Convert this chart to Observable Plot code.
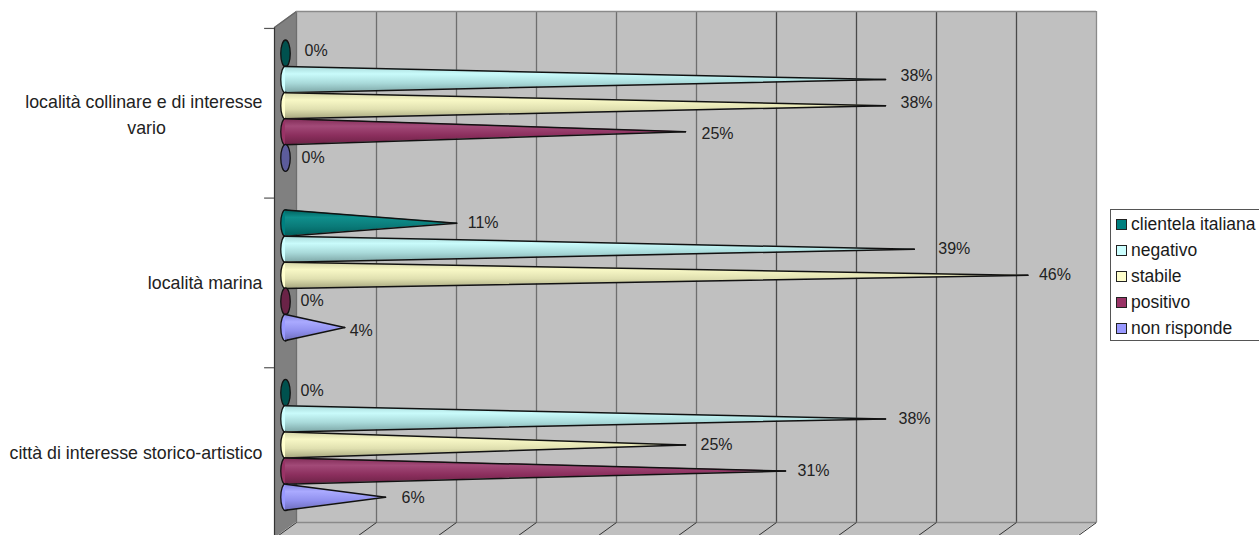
<!DOCTYPE html>
<html>
<head>
<meta charset="utf-8">
<script src="https://cdn.jsdelivr.net/npm/d3@7"></script>
<script src="https://cdn.jsdelivr.net/npm/@observablehq/plot@0.6"></script>
<style>
html,body{margin:0;padding:0;background:#fff;overflow:hidden}
#wrap{position:relative;width:1259px;height:535px;font-family:"Liberation Sans",Arial,sans-serif}
#legend{position:absolute;left:1110px;top:209px;width:160px;height:132px;border:1px solid #555;box-sizing:border-box;font-size:17.5px;color:#1a1a1a}
#legend .row{position:absolute;left:5px;display:flex;align-items:center;height:20px;white-space:nowrap}
#legend .sw{width:9px;height:9px;border:1.5px solid #222;margin-right:4px;display:inline-block}
</style>
</head>
<body>
<div id="wrap"><div id="chart"></div><div id="legend"></div></div>
<script>
const categories = ["località collinare e di interesse vario", "località marina", "città di interesse storico-artistico"];
const seriesNames = ["clientela italiana", "negativo", "stabile", "positivo", "non risponde"];
const clientela = [0, 10.7, 0];
const negativo = [37.5, 39.3, 37.5];
const stabile = [37.5, 46.4, 25];
const positivo = [25, 0, 31.25];
const nonRisponde = [0, 3.7, 6.25];
const xTicks = [0, 5, 10, 15, 20, 25, 30, 35, 40, 45, 50];

const seriesValues = [clientela, negativo, stabile, positivo, nonRisponde];
const swatch = ["#008080", "#CCFFFF", "#FFFFCC", "#993366", "#9999FF"];
const zeroFill = ["#00514e", "#7fa6a6", "#a6a67f", "#6a2347", "#5c5c9c"];
const stops = [
  ["#005f5c", "#0f8f8c", "#0a7a78", "#005f5c"],
  ["#a6d6d6", "#c9fbfb", "#a9dada", "#7fa8a8"],
  ["#d2d2a6", "#f8f8c6", "#e0e0b0", "#a8a880"],
  ["#7f2a55", "#a24a78", "#8c2f5e", "#6d2347"],
  ["#8282dc", "#aaaaff", "#9090ee", "#6f6fbf"]
];

const groupStep = 6.5;
const slot = (g, s) => g * groupStep + s;
const cones = [];
seriesValues.forEach((vals, s) => vals.forEach((v, g) => cones.push({g, s, v, y: slot(g, s)})));

// label placement, in pixels from the tip of each cone: [series][category]
const nudge = [
  [[19, -3], [11, 0], [15, -2]],
  [[15, -4], [24, 0], [13, 0]],
  [[15, -3], [11, 0], [15, 0]],
  [[16, 2], [15, -1], [12, 0]],
  [[16, 0], [5, 3], [16, 1]]
];

const wallTop = -1.61, wallBottom = 17.97;
const depthX = -1.375, depthY = 0.61, coneDx = -11;
const axisTicks = [0, 1, 2, 3].map(i => i * groupStep - 0.96);

const ellipse = {
  draw(ctx, size) {
    const ry = Math.sqrt(size / Math.PI), rx = ry * 0.35, k = 0.5523;
    ctx.moveTo(-rx, 0);
    ctx.bezierCurveTo(-rx, -ry * k, -rx * k, -ry, 0, -ry);
    ctx.bezierCurveTo(rx * k, -ry, rx, -ry * k, rx, 0);
    ctx.bezierCurveTo(rx, ry * k, rx * k, ry, 0, ry);
    ctx.bezierCurveTo(-rx * k, ry, -rx, ry * k, -rx, 0);
    ctx.closePath();
  }
};

const marks = [
  // back wall
  Plot.rect([0], {x1: 0, x2: 50, y1: wallTop, y2: wallBottom, fill: "#C0C0C0"}),
  // floor
  Plot.area([
    {y: wallBottom, x1: 0, x2: 50},
    {y: wallBottom + depthY, x1: depthX, x2: 50 + depthX}
  ], {y1: "y", x1: "x1", x2: "x2", fill: "#C0C0C0"}),
  // side wall
  Plot.area([
    {x: depthX, y1: wallTop + depthY, y2: wallBottom + depthY},
    {x: 0, y1: wallTop, y2: wallBottom}
  ], {x1: "x", y1: "y1", y2: "y2", fill: "#808080"}),
  Plot.ruleX([depthX], {y1: wallTop + depthY, y2: wallBottom + depthY, stroke: "#333", strokeWidth: 1.2}),
  Plot.link([0], {x1: 0, x2: depthX, y1: wallTop, y2: wallTop + depthY, stroke: "#666", strokeWidth: 1.2}),
  Plot.ruleX(xTicks, {x: d => d, y1: wallTop, y2: wallBottom, stroke: d => d < 30 ? "#6e6e6e" : d === 50 ? "#8a8a8a" : "#4a4a4a", strokeWidth: 1.3}),
  Plot.ruleY([wallTop, wallBottom], {x1: 0, x2: 50, stroke: "#8a8a8a", strokeWidth: 1.6}),
  Plot.link(xTicks, {x1: d => d, x2: d => d + depthX, y1: wallBottom, y2: wallBottom + depthY, stroke: "#333", strokeWidth: 1}),
  Plot.ruleY(axisTicks, {x1: depthX * 1.45, x2: depthX, stroke: "#555", strokeWidth: 1.2}),
];

cones.forEach(c => {
  const fill = `url(#grad${c.s})`;
  marks.push(Plot.dot([c], {
    x: 0, y: "y", r: 13.5, symbol: ellipse, dx: coneDx,
    fill: c.v === 0 ? zeroFill[c.s] : swatch[c.s], stroke: "#111", strokeWidth: 1.3
  }));
  if (c.v > 0) {
    const pts = [{x: 0, y1: c.y - 0.5, y2: c.y + 0.5}, {x: c.v, y1: c.y, y2: c.y}];
    marks.push(Plot.area(pts, {x1: "x", y1: "y1", y2: "y2", dx: coneDx, fill}));
    marks.push(Plot.line(pts, {x: "x", y: "y1", dx: coneDx, stroke: "#111", strokeWidth: 1.5}));
    marks.push(Plot.line(pts, {x: "x", y: "y2", dx: coneDx, stroke: "#111", strokeWidth: 1.5}));
  }
});

const fontFamily = "Liberation Sans";
cones.forEach(c => {
  const [ox, oy] = nudge[c.s][c.g];
  marks.push(Plot.text([c], {
    x: "v", y: "y", text: d => Math.round(d.v) + "%",
    dx: coneDx + ox, dy: oy, textAnchor: "start", fill: "#222",
    fontSize: 16, fontFamily
  }));
});

// category labels
const catSize = 17.8;
const catY = [1.88, 8.81, 15.33];
marks.push(Plot.text([categories[0].replace(" vario", "")], {
  x: 0, y: catY[0], text: d => d, dx: -34, textAnchor: "end", fill: "#222", fontSize: catSize, fontFamily
}));
marks.push(Plot.text(["vario"], {
  x: 0, y: catY[0] + 0.99, text: d => d, dx: -150, textAnchor: "middle", fill: "#222", fontSize: catSize, fontFamily
}));
marks.push(Plot.text([categories[1], categories[2]], {
  x: 0, y: (d, i) => catY[i + 1], text: d => d, dx: -34, textAnchor: "end", fill: "#222", fontSize: catSize, fontFamily
}));

const chart = Plot.plot({
  width: 1259, height: 535,
  marginTop: 0, marginRight: 0, marginBottom: 0, marginLeft: 0,
  style: {background: "#fff", overflow: "hidden"},
  x: {domain: [0, 50], range: [296, 1096], axis: null},
  y: {domain: [0, 1], range: [53, 79.1], axis: null},
  marks
});

const defs = d3.select(chart).insert("defs", ":first-child");
stops.forEach((st, i) => {
  const g = defs.append("linearGradient").attr("id", "grad" + i)
    .attr("x1", 0).attr("y1", 0).attr("x2", 0).attr("y2", 1);
  [0, 0.3, 0.65, 1].forEach((o, j) => g.append("stop").attr("offset", o).attr("stop-color", st[j]));
});
document.getElementById("chart").appendChild(chart);

const leg = d3.select("#legend");
seriesNames.forEach((n, i) => {
  const r = leg.append("div").attr("class", "row").style("top", (4 + i * 26.1) + "px");
  r.append("span").attr("class", "sw").style("background", swatch[i]);
  r.append("span").text(n);
});
</script>
</body>
</html>
